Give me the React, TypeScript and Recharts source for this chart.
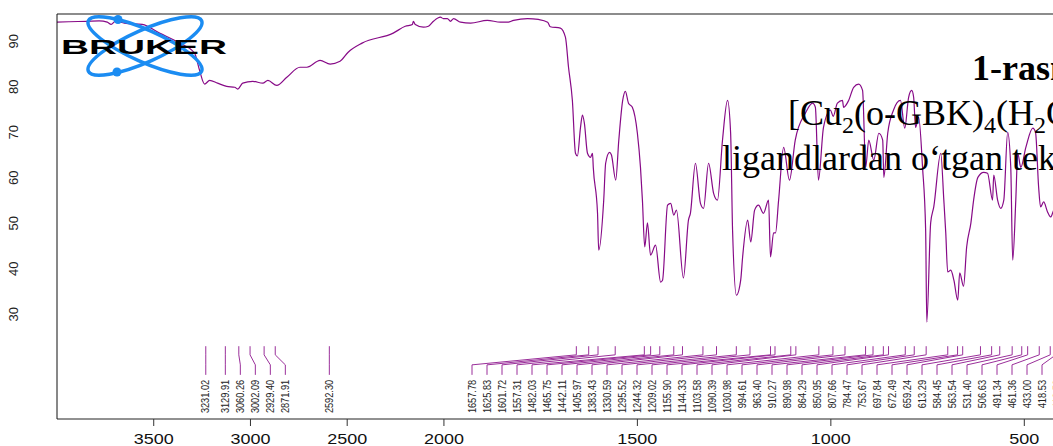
import React from 'react';
import { LineChart, Line, XAxis, YAxis, ReferenceLine, ReferenceDot } from 'recharts';

// IR spectrum, wavenumber (cm-1) vs transmittance (%)
const wavenumbers = [
  4000, 3937, 3844, 3782, 3740, 3720, 3699, 3652, 3559, 3470, 3367, 3289, 3263, 3237, 3211,
  3170, 3123, 3081, 3066, 3040, 2988, 2936, 2910, 2864, 2812, 2744, 2708, 2640, 2588, 2537,
  2495, 2423, 2262, 2200, 2163, 2158, 2148, 2106, 2080, 2054, 2018, 2003, 1991, 1983, 1975,
  1957, 1931, 1888, 1854, 1836, 1820, 1784, 1756, 1732, 1725, 1699, 1686, 1678, 1668, 1660,
  1655, 1647, 1642, 1637, 1629, 1621, 1616, 1614, 1603, 1600, 1587, 1582, 1572, 1567, 1556,
  1548, 1538, 1531, 1523, 1513, 1500, 1492, 1487, 1481, 1474, 1466, 1453, 1440, 1435, 1422,
  1414, 1406, 1399, 1381, 1368, 1363, 1350, 1337, 1329, 1316, 1303, 1293, 1280, 1267, 1259,
  1254, 1244, 1233, 1228, 1215, 1207, 1197, 1187, 1174, 1161, 1156, 1148, 1143, 1135, 1122,
  1107, 1092, 1066, 1047, 1040, 1032, 1019, 1001, 994, 983, 970, 967, 954, 941, 928,
  918, 910, 902, 889, 876, 866, 863, 853, 838, 820, 809, 799, 791, 786, 781,
  773, 763, 755, 752, 742, 734, 716, 708, 703, 698, 690, 682, 672, 667, 657,
  649, 638, 631, 620, 605, 595, 582, 579, 569, 561, 553, 543, 535, 530, 522,
  517, 509, 496, 478, 471, 463, 458, 450, 440, 432, 424, 415,
];
const transmittance = [
  94.2, 94.3, 94.4, 94.5, 94.2, 93.7, 94.4, 94.0, 93.7, 91.8, 89.6, 87.4, 83.6, 80.6, 81.4,
  80.8, 80.1, 79.9, 79.5, 80.8, 81.2, 80.8, 81.4, 80.3, 82.1, 84.3, 84.3, 85.8, 85.0, 85.6,
  87.6, 89.6, 91.8, 93.3, 93.7, 94.4, 93.7, 93.1, 93.3, 94.4, 95.3, 95.0, 95.0, 94.4, 95.0,
  94.2, 94.0, 94.6, 94.2, 94.2, 94.6, 95.0, 94.8, 94.2, 93.2, 92.9, 90.9, 84.3, 77.0, 65.4,
  64.8, 71.1, 73.8, 72.0, 65.4, 64.5, 65.4, 62.3, 52.2, 44.1, 55.1, 63.2, 65.6, 65.0, 59.5,
  68.3, 77.0, 79.0, 76.4, 75.5, 69.8, 62.3, 55.1, 44.8, 50.1, 43.0, 45.2, 37.1, 37.5, 54.0,
  54.4, 51.8, 52.9, 38.0, 50.7, 52.2, 63.2, 54.4, 53.3, 63.2, 56.6, 55.1, 68.3, 77.0, 69.8,
  48.5, 34.2, 37.5, 42.6, 50.7, 45.9, 52.9, 54.0, 52.2, 55.1, 42.6, 47.9, 47.9, 55.1, 66.7,
  59.5, 68.3, 74.2, 76.4, 75.5, 59.5, 71.1, 74.9, 73.5, 76.4, 77.0, 75.5, 77.0, 79.9, 80.6,
  79.2, 62.3, 68.3, 63.9, 69.8, 68.3, 60.1, 69.8, 74.9, 77.0, 70.9, 77.7, 79.2, 77.7, 71.1,
  73.3, 62.3, 48.5, 28.3, 50.1, 53.6, 65.4, 55.1, 47.9, 39.3, 39.7, 37.5, 33.1, 39.1, 36.2,
  44.8, 50.1, 55.1, 60.1, 61.2, 61.0, 55.1, 60.6, 55.1, 53.3, 55.1, 70.0, 62.3, 41.9, 55.1,
  65.4, 62.3, 66.7, 70.9, 70.0, 58.0, 53.6, 54.7, 52.5, 51.4, 52.9, 54.0,
];

const peakLabels = [
  '3231.02', '3129.91', '3060.26', '3002.09', '2929.40', '2871.91', '2592.30',
  '1657.78', '1625.83', '1601.72', '1557.31', '1482.03', '1465.75', '1442.11', '1405.97',
  '1383.43', '1330.59', '1295.52', '1244.32', '1209.02', '1155.90', '1144.33', '1103.58',
  '1090.39', '1030.98', '994.61', '963.40', '910.27', '890.98', '864.29', '850.95',
  '807.66', '784.47', '753.67', '697.84', '672.49', '659.24', '613.29', '584.45',
  '563.54', '531.40', '506.63', '491.34', '461.36', '433.00', '418.53', '410.52',
];

const xTicks = [3500, 3000, 2500, 2000, 1500, 1000, 500];
const yTicks = [30, 40, 50, 60, 70, 80, 90];

// Bruker style axis: above 2000 cm-1 the scale is compressed by 2
const BREAK = 2000;
const toAxis = (wn: number) => (wn <= BREAK ? wn : BREAK + (wn - BREAK) / 2);
const fromAxis = (p: number) => (p <= BREAK ? p : BREAK + (p - BREAK) * 2);

const CHART_W = 1070;
const CHART_H = 446;
const Y_AXIS_W = 57;
const MARGIN_RIGHT = 7;
const X_MIN = 400;
const X_MAX = 3000;
const Y_MIN = 7;
const Y_MAX = 96;

const PURPLE = '#870a87';
const LABEL_PURPLE = '#9a2f9a';
const SANS = '"Liberation Sans", Arial, sans-serif';
const SERIF = '"Liberation Serif", "Times New Roman", serif';

// y levels (in % units) of the peak marker connectors
const TICK_TOP = 23.0;
const TICK_BEND = 21.1;
const LABEL_BEND = 18.9;
const LABEL_LINE_END = 16.7;
const LABEL_TOP = 15.6;

const rows = wavenumbers.map((wn, i) => ({ pos: toAxis(wn), t: transmittance[i] }));

// spread the peak labels so they are at least 15px apart
const layoutPeaks = () => {
  const plotW = CHART_W - Y_AXIS_W - MARGIN_RIGHT;
  const unitsPerPx = (X_MAX - X_MIN) / plotW;
  const gap = 15 * unitsPerPx;
  const limit = X_MIN + 6 * unitsPerPx;
  const peaks = peakLabels.map((label) => ({ label, pos: toAxis(parseFloat(label)), lpos: 0 }));
  peaks.forEach((pk, i) => {
    pk.lpos = i === 0 ? pk.pos : Math.min(pk.pos, peaks[i - 1].lpos - gap);
  });
  for (let i = peaks.length - 1; i >= 0; i--) {
    const bound = i === peaks.length - 1 ? limit : peaks[i + 1].lpos + gap;
    peaks[i].lpos = Math.max(peaks[i].lpos, bound);
  }
  return peaks;
};

const peaks = layoutPeaks();

const renderXTick = ({ x, y, payload }: any) => {
  const label = String(Math.round(fromAxis(payload.value)));
  return (
    <text
      x={x}
      y={y + 16}
      textAnchor="middle"
      fontSize={14}
      fontFamily={SANS}
      fill="#111"
      textLength={label.length * 10}
      lengthAdjust="spacingAndGlyphs"
    >
      {label}
    </text>
  );
};

// text reading bottom to top, anchored at (x, y)
const VerticalText = ({ x, y, anchor, size, len, children }: any) => (
  <g transform={`translate(${x}, ${y})`}>
    <g transform="rotate(-90)">
      <text
        x={0}
        y={0}
        textAnchor={anchor}
        fontSize={size}
        fontFamily={SANS}
        fill="#222"
        textLength={len}
        lengthAdjust={len ? 'spacingAndGlyphs' : undefined}
      >
        {children}
      </text>
    </g>
  </g>
);

const Overlay = () => (
  <svg
    width={1053}
    height={446}
    style={{ position: 'absolute', left: 0, top: 0, pointerEvents: 'none' }}
  >
    {/* Bruker logo */}
    <g>
      <ellipse cx={145} cy={46} rx={62} ry={16} transform="rotate(24 145 46)" fill="none" stroke="#1b8cf2" strokeWidth={3.5} />
      <ellipse cx={145} cy={46} rx={62} ry={16} transform="rotate(-24 145 46)" fill="none" stroke="#1b8cf2" strokeWidth={3.5} />
      <circle cx={118} cy={19.5} r={4.5} fill="#1b8cf2" />
      <circle cx={117} cy={72} r={4.5} fill="#1b8cf2" />
      <text
        x={61}
        y={53.5}
        fontSize={20}
        fontWeight={900}
        fontFamily={SANS}
        fill="#000"
        textLength={166}
        lengthAdjust="spacingAndGlyphs"
      >
        BRUKER
      </text>
    </g>
    {/* caption */}
    <text x={972} y={80} fontSize={36} fontWeight={700} fontFamily={SERIF} fill="#000">
      1-rasm.
    </text>
    <text x={788} y={125} fontSize={36} fontFamily={SERIF} fill="#000">
      [Cu
      <tspan fontSize={24} dy={8}>2</tspan>
      <tspan dy={-8}>(o-GBK)</tspan>
      <tspan fontSize={24} dy={8}>4</tspan>
      <tspan dy={-8}>(H</tspan>
      <tspan fontSize={24} dy={8}>2</tspan>
      <tspan dy={-8}>O)</tspan>
    </text>
    <text x={722} y={170} fontSize={36} fontFamily={SERIF} fill="#000">
      ligandlardan o‘tgan tek
    </text>
  </svg>
);

export default function App() {
  return (
    <div
      style={{
        position: 'absolute',
        left: 0,
        top: 0,
        width: 1053,
        height: 446,
        overflow: 'hidden',
        background: '#fff',
      }}
    >
      <LineChart
        width={CHART_W}
        height={CHART_H}
        data={rows}
        margin={{ top: 14, right: MARGIN_RIGHT, bottom: 0, left: 0 }}
      >
        <XAxis
          type="number"
          dataKey="pos"
          domain={[X_MIN, X_MAX]}
          reversed
          allowDataOverflow
          ticks={xTicks.map(toAxis)}
          interval={0}
          tick={renderXTick}
          tickSize={7}
          tickLine={{ stroke: '#333' }}
          axisLine={{ stroke: '#222' }}
          height={27}
        />
        <YAxis
          type="number"
          domain={[Y_MIN, Y_MAX]}
          ticks={yTicks}
          allowDataOverflow
          width={Y_AXIS_W}
          tick={false}
          tickSize={9}
          tickLine={{ stroke: '#777' }}
          axisLine={{ stroke: '#111' }}
        />
        <ReferenceLine y={Y_MAX} stroke="#666" strokeWidth={1.5} />
        {/* rotated y tick labels, placed at the left edge of the plot */}
        {yTicks.map((v) => (
          <ReferenceDot
            key={`y-${v}`}
            x={X_MAX}
            y={v}
            r={1}
            shape={(props: any) => (
              <VerticalText x={props.cx - 39} y={props.cy} anchor="middle" size={13}>
                {v}
              </VerticalText>
            )}
          />
        ))}
        {peaks.map((pk) => (
          <ReferenceLine
            key={`a-${pk.label}`}
            segment={[{ x: pk.pos, y: TICK_TOP }, { x: pk.pos, y: TICK_BEND }]}
            stroke={LABEL_PURPLE}
            strokeWidth={1}
          />
        ))}
        {peaks.map((pk) => (
          <ReferenceLine
            key={`b-${pk.label}`}
            segment={[{ x: pk.pos, y: TICK_BEND }, { x: pk.lpos, y: LABEL_BEND }]}
            stroke={LABEL_PURPLE}
            strokeWidth={1}
          />
        ))}
        {peaks.map((pk) => (
          <ReferenceLine
            key={`c-${pk.label}`}
            segment={[{ x: pk.lpos, y: LABEL_BEND }, { x: pk.lpos, y: LABEL_LINE_END }]}
            stroke={LABEL_PURPLE}
            strokeWidth={1}
          />
        ))}
        {peaks.map((pk) => (
          <ReferenceDot
            key={`d-${pk.label}`}
            x={pk.lpos}
            y={LABEL_TOP}
            r={1}
            shape={(props: any) => (
              <VerticalText
                x={props.cx + 3.5}
                y={props.cy}
                anchor="end"
                size={10}
                len={pk.label.length * 4.75}
              >
                {pk.label}
              </VerticalText>
            )}
          />
        ))}
        <Line
          type="monotone"
          dataKey="t"
          stroke={PURPLE}
          strokeWidth={1.2}
          dot={false}
          isAnimationActive={false}
        />
      </LineChart>
      <Overlay />
    </div>
  );
}
